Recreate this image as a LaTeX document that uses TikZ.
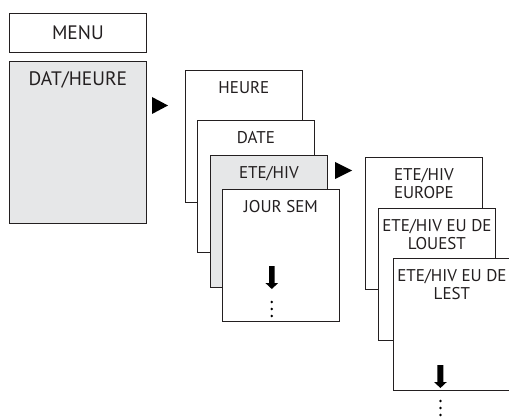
\documentclass[tikz,border=0pt]{standalone}
\usepackage{fontspec}
\setmainfont{PT Sans}
\usetikzlibrary{positioning}
\definecolor{panelgray}{HTML}{E6E7E8}
\definecolor{inkgray}{HTML}{231F20}

\begin{document}
\begin{tikzpicture}[
  x=1pt, y=-1pt,
  topbox/.style={rectangle, draw=inkgray, line width=0.8pt, fill=white,
                 minimum width=137pt, minimum height=39pt, anchor=north west,
                 font=\fontsize{19.5}{22}\selectfont, text=inkgray},
  mainbox/.style={rectangle, draw=inkgray, line width=0.8pt, fill=panelgray,
                  minimum width=137pt, anchor=north west, align=center,
                  inner ysep=11pt, text height=13.5pt, text depth=126.5pt,
                  font=\fontsize{19.5}{22}\selectfont, text=inkgray},
  card/.style={rectangle, draw=inkgray, line width=0.8pt, fill=white,
               minimum width=117pt, anchor=north west, align=center,
               inner ysep=10.5pt, text height=12.5pt, text depth=98.5pt,
               font=\fontsize{17}{18.5}\selectfont, text=inkgray},
  twoline/.style={text height=31pt, text depth=80pt},
  graycard/.style={card, fill=panelgray},
  pointer/.style={fill=black},
  dot/.style={fill=black},
]
  \useasboundingbox (0,0) rectangle (509,417);

  % Menu column
  \node[topbox] (menu) at (9,13) {MENU};
  \node[mainbox] (datheure) at (9,61) {DAT/HEURE};
  \fill[pointer] (152,97) -- (168,105.5) -- (152,114) -- cycle;

  % Date / time column
  \node[card] (heure) at (185,70) {HEURE};
  \node[card] (date) at (197,120) {DATE};
  \node[graycard] (etehiv) at (210,155) {ETE/HIV};
  \node[card] (joursem) at (222,189) {JOUR SEM};
  \fill[pointer] (335,162) -- (352,170.5) -- (335,179) -- cycle;

  % scroll mark (JOUR SEM)
  \fill[pointer] (269,266) -- (274.6,266) -- (274.6,283) -- (278.2,283)
    -- (271.8,289) -- (265.4,283) -- (269,283) -- cycle;
  \foreach \y in {302,309,316}
    \fill[dot] (271.8,\y) circle (1.4);

  % Summer / winter time column
  \node[card, twoline] (europe) at (365,157) {ETE/HIV\\EUROPE};
  \node[card, twoline] (louest) at (378,208) {ETE/HIV EU DE\\LOUEST};
  \node[card, twoline] (lest) at (393,258) {ETE/HIV EU DE\\LEST};

  % scroll mark (LEST)
  \fill[pointer] (437.4,365) -- (443.4,365) -- (443.4,382) -- (446.8,382)
    -- (440.4,388) -- (434,382) -- (437.4,382) -- cycle;
  \foreach \y in {401,408,415}
    \fill[dot] (440.4,\y) circle (1.4);

\end{tikzpicture}
\end{document}
